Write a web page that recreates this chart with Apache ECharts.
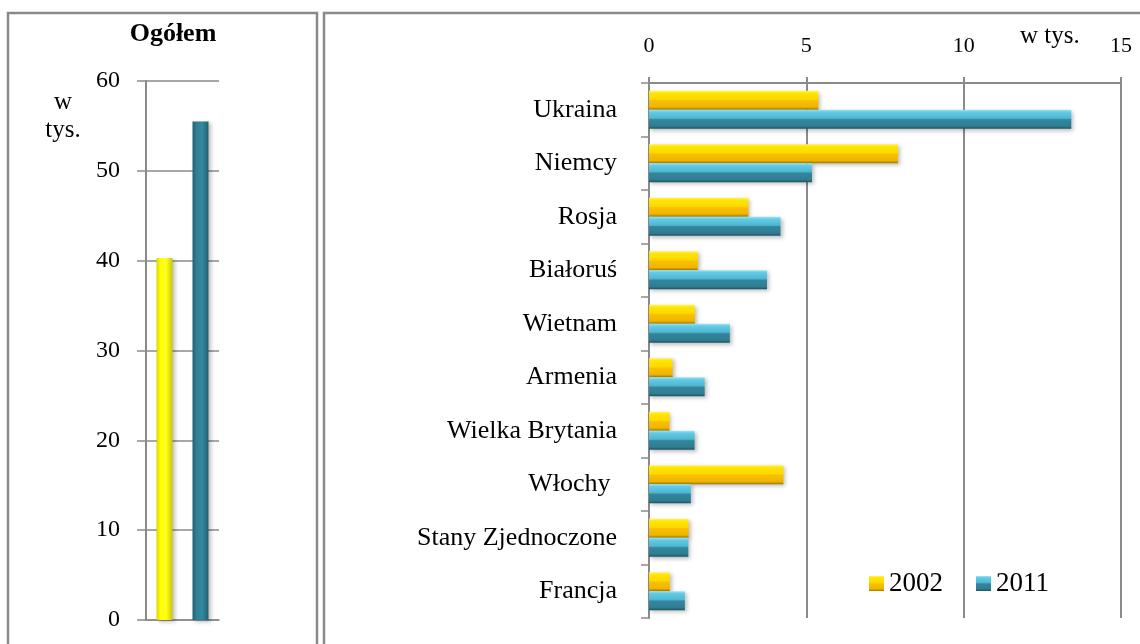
<!DOCTYPE html>
<html>
<head>
<meta charset="utf-8">
<script src="https://cdn.jsdelivr.net/npm/echarts@6/dist/echarts.min.js"></script>
<style>
    html, body { margin: 0; padding: 0; background: #fff; }
    #main { width: 1140px; height: 644px; }
</style>
</head>
<body>
<div id="main"></div>
<script>
    // dane
    const years = ['2002', '2011']
    const countries = ['Ukraina', 'Niemcy', 'Rosja', 'Białoruś', 'Wietnam', 'Armenia',
        'Wielka Brytania', 'Włochy ', 'Stany Zjednoczone', 'Francja']
    const values2002 = [5.38, 7.91, 3.16, 1.55, 1.46, 0.75, 0.65, 4.27, 1.26, 0.66]
    const values2011 = [13.42, 5.18, 4.18, 3.75, 2.57, 1.77, 1.45, 1.33, 1.25, 1.14]
    const totalLabel = ['Ogółem']
    const total2002 = [40.3]
    const total2011 = [55.5]

    const FONT = 'Liberation Serif'
    const GRAY = '#8a8a8a'

    // gradienty imitujace efekt 3D
    const yellowH = new echarts.graphic.LinearGradient(0, 0, 0, 1, [
        {offset: 0, color: '#fff36a'},
        {offset: 0.12, color: '#ffe600'},
        {offset: 0.45, color: '#ffd800'},
        {offset: 0.52, color: '#f9c000'},
        {offset: 0.86, color: '#f0b400'},
        {offset: 1, color: '#9c7500'}
    ])
    const blueH = new echarts.graphic.LinearGradient(0, 0, 0, 1, [
        {offset: 0, color: '#9be6f8'},
        {offset: 0.12, color: '#62cbe6'},
        {offset: 0.45, color: '#4fb6d2'},
        {offset: 0.52, color: '#34869d'},
        {offset: 0.86, color: '#2f7d92'},
        {offset: 1, color: '#1c5362'}
    ])
    const yellowV = new echarts.graphic.LinearGradient(0, 0, 1, 0, [
        {offset: 0, color: '#d8d800'},
        {offset: 0.25, color: '#ffff00'},
        {offset: 0.6, color: '#ffff20'},
        {offset: 1, color: '#c9c900'}
    ])
    const blueV = new echarts.graphic.LinearGradient(0, 0, 1, 0, [
        {offset: 0, color: '#22606f'},
        {offset: 0.25, color: '#2f7f95'},
        {offset: 0.6, color: '#3489a0'},
        {offset: 1, color: '#225f6e'}
    ])
    const shadow = {shadowColor: 'rgba(0,0,0,0.25)', shadowBlur: 4, shadowOffsetX: 2, shadowOffsetY: 2}

    echarts.init(document.getElementById('main')).setOption({
        animation: false,
        textStyle: {fontFamily: FONT},
        grid: [
            {left: 146, width: 73, top: 81, bottom: 24},
            {left: 649, right: 19, top: 83, bottom: 26}
        ],
        legend: {
            data: years,
            left: 869, top: 570, padding: 0,
            icon: 'rect',
            itemWidth: 15, itemHeight: 15, itemGap: 33,
            textStyle: {fontFamily: FONT, fontSize: 27, color: '#000'}
        },
        xAxis: [
            {
                gridIndex: 0, type: 'category', data: totalLabel,
                axisLine: {show: true, lineStyle: {color: GRAY, width: 1.5}},
                axisTick: {show: false}, axisLabel: {show: false}
            },
            {
                gridIndex: 1, type: 'value', position: 'top',
                min: 0, max: 15, interval: 5,
                axisLine: {show: true, lineStyle: {color: GRAY, width: 2}},
                axisTick: {show: true, length: 6, lineStyle: {color: GRAY, width: 2}},
                splitLine: {show: true, lineStyle: {color: GRAY, width: 2}},
                axisLabel: {margin: 26, fontSize: 22, color: '#000', fontFamily: FONT}
            }
        ],
        yAxis: [
            {
                gridIndex: 0, type: 'value', min: 0, max: 60, interval: 10,
                axisLine: {show: true, lineStyle: {color: GRAY, width: 2}},
                axisTick: {show: true, length: 9, lineStyle: {color: GRAY, width: 1.5}},
                splitLine: {show: true, lineStyle: {color: GRAY, width: 1.5}},
                axisLabel: {margin: 26, fontSize: 24, color: '#000', fontFamily: FONT}
            },
            {
                gridIndex: 1, type: 'category', data: countries, inverse: true,
                axisLine: {show: true, lineStyle: {color: GRAY, width: 2}},
                axisTick: {show: true, length: 8, lineStyle: {color: GRAY, width: 1.5}},
                splitLine: {show: false},
                axisLabel: {margin: 32, fontSize: 26, color: '#000', fontFamily: FONT}
            }
        ],
        graphic: [
            {type: 'rect', shape: {x: 8, y: 13, width: 309, height: 700},
                style: {fill: 'none', stroke: GRAY, lineWidth: 2.5}},
            {type: 'rect', shape: {x: 324, y: 13, width: 900, height: 700},
                style: {fill: 'none', stroke: GRAY, lineWidth: 2.5}},
            {type: 'text', x: 173, y: 34,
                style: {text: 'Ogółem', font: 'bold 26px "Liberation Serif"', fill: '#000',
                    textAlign: 'center', textVerticalAlign: 'middle'}},
            {type: 'text', x: 63, y: 102,
                style: {text: 'w', font: '25px "Liberation Serif"', fill: '#000',
                    textAlign: 'center', textVerticalAlign: 'middle'}},
            {type: 'text', x: 63, y: 130,
                style: {text: 'tys.', font: '25px "Liberation Serif"', fill: '#000',
                    textAlign: 'center', textVerticalAlign: 'middle'}},
            {type: 'text', x: 1020, y: 36,
                style: {text: 'w tys.', font: '25px "Liberation Serif"', fill: '#000',
                    textAlign: 'left', textVerticalAlign: 'middle'}}
        ],
        series: [
            {
                name: '2002', type: 'bar', xAxisIndex: 1, yAxisIndex: 1,
                data: values2002, barWidth: 19, barGap: '0%',
                itemStyle: Object.assign({color: yellowH}, shadow)
            },
            {
                name: '2011', type: 'bar', xAxisIndex: 1, yAxisIndex: 1,
                data: values2011, barWidth: 19, barGap: '0%',
                itemStyle: Object.assign({color: blueH}, shadow)
            },
            {
                name: '2002', type: 'bar', xAxisIndex: 0, yAxisIndex: 0,
                data: total2002, barWidth: 16, barGap: '125%',
                itemStyle: Object.assign({color: yellowV}, shadow)
            },
            {
                name: '2011', type: 'bar', xAxisIndex: 0, yAxisIndex: 0,
                data: total2011, barWidth: 16, barGap: '125%',
                itemStyle: Object.assign({color: blueV}, shadow)
            }
        ]
    })
</script>
</body>
</html>
